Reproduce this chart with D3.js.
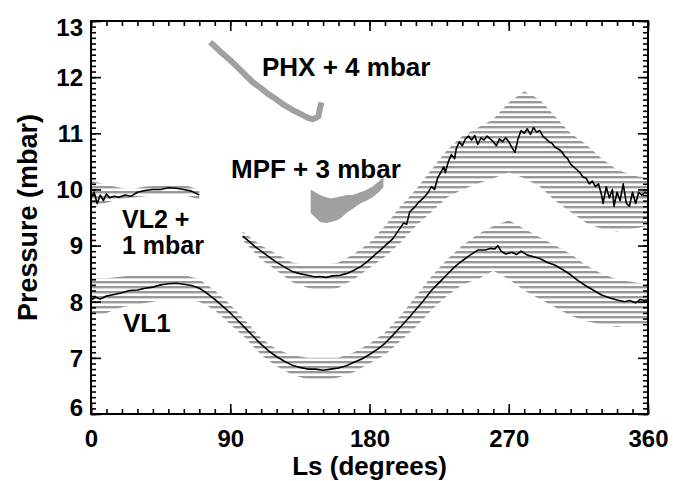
<!DOCTYPE html>
<html>
<head>
<meta charset="utf-8">
<script src="https://cdn.jsdelivr.net/npm/d3@7.9.0/dist/d3.min.js"></script>
<style>
  body { margin: 0; background: #fff; }
  text { font-family: "Liberation Sans", Arial, Helvetica, sans-serif; font-weight: bold; }
</style>
</head>
<body>
<svg id="chart" width="673" height="481"></svg>
<script>
// Axis ticks
const xTicks = [0, 90, 180, 270, 360];
const yTicks = [6, 7, 8, 9, 10, 11, 12, 13];

// VL1 daily mean
const vl1Ls = [0, 3, 6, 10, 15, 20, 25, 30, 35, 40, 45, 50, 55, 60, 65, 70, 75, 80, 85, 90, 95, 100, 105, 110, 115, 120, 125, 130, 135, 140, 145, 150, 155, 160, 165, 170, 175, 180, 185, 190, 195, 200, 205, 210, 215, 220, 225, 230, 235, 240, 245, 250, 255, 258, 261, 263, 265, 268, 272, 275, 278, 282, 286, 290, 295, 300, 305, 310, 315, 320, 325, 330, 335, 340, 345, 348, 352, 355, 358, 360];
const vl1P = [8.03, 8.08, 8.05, 8.1, 8.13, 8.16, 8.2, 8.21, 8.24, 8.26, 8.3, 8.32, 8.33, 8.31, 8.29, 8.24, 8.15, 8.04, 7.92, 7.8, 7.66, 7.52, 7.38, 7.24, 7.12, 7.02, 6.94, 6.87, 6.83, 6.8, 6.8, 6.78, 6.8, 6.82, 6.86, 6.92, 6.98, 7.06, 7.15, 7.26, 7.4, 7.55, 7.7, 7.86, 8.02, 8.2, 8.34, 8.48, 8.62, 8.73, 8.83, 8.92, 8.92, 8.95, 8.94, 9.0, 8.9, 8.85, 8.88, 8.84, 8.9, 8.83, 8.8, 8.77, 8.7, 8.65, 8.57, 8.48, 8.37, 8.28, 8.2, 8.12, 8.07, 8.03, 8.0, 8.02, 7.98, 8.04, 8.02, 8.04];

// VL1 raw spread (upper / lower edge)
const vl1BandLs = [0, 10, 20, 30, 40, 50, 60, 70, 80, 90, 100, 110, 120, 130, 140, 150, 160, 170, 180, 190, 200, 210, 220, 230, 240, 250, 260, 270, 280, 290, 300, 310, 320, 330, 340, 350, 360];
const vl1Upper = [8.42, 8.42, 8.45, 8.48, 8.48, 8.48, 8.48, 8.4, 8.2, 7.95, 7.65, 7.35, 7.15, 7.05, 7.0, 7.0, 7.0, 7.1, 7.25, 7.45, 7.75, 8.1, 8.45, 8.75, 9.0, 9.2, 9.35, 9.45, 9.3, 9.15, 9.0, 8.85, 8.65, 8.5, 8.4, 8.35, 8.3];
const vl1Lower = [7.75, 7.8, 7.9, 7.95, 8.0, 8.05, 8.05, 8.0, 7.85, 7.6, 7.35, 7.05, 6.85, 6.7, 6.62, 6.6, 6.65, 6.75, 6.9, 7.05, 7.3, 7.55, 7.85, 8.1, 8.3, 8.4, 8.55, 8.4, 8.2, 8.05, 7.9, 7.75, 7.65, 7.6, 7.55, 7.6, 7.6];

// VL2 + 1 mbar, first year segment
const vl2aLs = [0, 2, 4, 6, 8, 10, 12, 15, 18, 22, 26, 30, 35, 40, 45, 50, 55, 60, 65, 70];
const vl2aP = [9.85, 9.95, 9.75, 9.9, 9.8, 9.92, 9.85, 9.88, 9.86, 9.9, 9.88, 9.95, 9.98, 10.0, 10.0, 10.03, 10.02, 10.0, 9.97, 9.9];
const vl2aBandLs = [0, 8, 15, 25, 35, 50, 60, 70];
const vl2aUpper = [10.15, 10.1, 10.05, 10.0, 10.05, 10.08, 10.08, 10.0];
const vl2aLower = [9.65, 9.75, 9.8, 9.85, 9.88, 9.9, 9.9, 9.82];

// VL2 + 1 mbar, second segment
const vl2bLs = [98, 102, 106, 110, 115, 120, 125, 130, 135, 140, 145, 148, 152, 156, 161, 165, 170, 174, 178, 182, 187, 191, 195, 199, 202, 204, 206, 209, 212, 215, 218, 220, 222, 224, 226, 228, 229, 231, 233, 235, 236, 238, 240, 242, 244, 246, 248, 250, 252, 254, 256, 258, 260, 262, 264, 266, 268, 270, 272, 274, 276, 278, 280, 282, 284, 286, 288, 290, 292, 294, 296, 298, 300, 302, 304, 306, 308, 310, 312, 314, 316, 318, 320, 322, 324, 326, 328, 330, 331, 333, 335, 337, 338, 340, 342, 344, 346, 348, 350, 352, 354, 356, 358, 360];
const vl2bP = [9.17, 9.08, 8.98, 8.9, 8.8, 8.7, 8.62, 8.54, 8.5, 8.47, 8.44, 8.45, 8.43, 8.46, 8.47, 8.5, 8.56, 8.62, 8.7, 8.8, 8.92, 9.02, 9.12, 9.28, 9.4, 9.38, 9.6, 9.68, 9.78, 9.85, 9.95, 10.05, 10.0, 10.2, 10.3, 10.4, 10.3, 10.5, 10.62, 10.55, 10.72, 10.85, 10.78, 10.9, 10.95, 10.88, 10.96, 10.8, 10.92, 10.88, 10.95, 10.9, 10.85, 10.78, 10.9, 10.85, 10.92, 10.85, 10.75, 10.66, 10.9, 11.05, 11.0, 11.08, 10.98, 11.1, 11.02, 11.05, 10.95, 10.9, 10.85, 10.82, 10.75, 10.72, 10.68, 10.6, 10.55, 10.45, 10.4, 10.35, 10.3, 10.22, 10.2, 10.1, 10.15, 10.05, 10.1, 9.9, 9.75, 10.05, 9.85, 10.0, 9.7, 9.95, 9.8, 10.1, 9.75, 9.7, 9.95, 9.75, 9.95, 9.9, 9.95, 9.92];
const vl2bBandLs = [98, 110, 120, 130, 140, 150, 160, 170, 180, 190, 200, 210, 220, 230, 240, 250, 260, 270, 280, 290, 300, 310, 320, 330, 340, 350, 360];
const vl2bUpper = [9.25, 9.0, 8.85, 8.7, 8.65, 8.65, 8.7, 8.85, 9.05, 9.35, 9.7, 10.0, 10.35, 10.7, 10.95, 11.1, 11.25, 11.55, 11.75, 11.6, 11.3, 11.0, 10.8, 10.55, 10.35, 10.25, 10.2];
const vl2bLower = [9.1, 8.75, 8.55, 8.35, 8.25, 8.2, 8.25, 8.4, 8.6, 8.8, 9.05, 9.35, 9.6, 9.85, 10.0, 10.1, 10.2, 10.3, 10.2, 10.05, 9.8, 9.6, 9.4, 9.3, 9.25, 9.3, 9.35];

// MPF + 3 mbar (filled spread)
const mpfLs = [142, 145, 148, 152, 155, 159, 162, 165, 169, 174, 178, 182, 186, 189];
const mpfUpper = [10.0, 9.95, 9.9, 9.86, 9.84, 9.86, 9.88, 9.9, 9.9, 9.95, 9.99, 10.05, 10.14, 10.22];
const mpfLower = [9.58, 9.5, 9.42, 9.4, 9.42, 9.45, 9.5, 9.58, 9.65, 9.75, 9.8, 9.86, 9.95, 10.04];

// PHX + 4 mbar
const phxLs = [77, 80, 85, 90, 95, 100, 105, 110, 115, 120, 125, 130, 135, 140, 143, 145, 147, 148, 149];
const phxP = [12.62, 12.55, 12.42, 12.3, 12.17, 12.03, 11.9, 11.8, 11.69, 11.6, 11.5, 11.42, 11.35, 11.28, 11.25, 11.27, 11.3, 11.45, 11.55];

const svg = d3.select('#chart');
const margin = { left: 91, top: 21, right: 25, bottom: 67 };
const W = 673 - margin.left - margin.right;
const H = 481 - margin.top - margin.bottom;

const x = d3.scaleLinear().domain([0, 360]).range([0, W]);
const y = d3.scaleLinear().domain([6, 13]).range([H, 0]);

// striped fill for the quantized raw data
const defs = svg.append('defs');
defs.append('pattern')
    .attr('id', 'stripes')
    .attr('patternUnits', 'userSpaceOnUse')
    .attr('width', 8).attr('height', 5)
  .append('rect')
    .attr('width', 8).attr('height', 2.4)
    .attr('fill', '#999');

const g = svg.append('g').attr('transform', `translate(${margin.left},${margin.top})`);

const area = d3.area()
    .x(d => x(d[0]))
    .y0(d => y(d[2]))
    .y1(d => y(d[1]));
const line = d3.line()
    .x(d => x(d[0]))
    .y(d => y(d[1]));

function band(ls, up, lo, fill) {
    g.append('path')
        .attr('d', area(ls.map((v, i) => [v, up[i], lo[i]])))
        .attr('fill', fill);
}
function trace(ls, p, color, width) {
    g.append('path')
        .attr('d', line(ls.map((v, i) => [v, p[i]])))
        .attr('fill', 'none')
        .attr('stroke', color)
        .attr('stroke-width', width)
        .attr('stroke-linejoin', 'round');
}

band(vl1BandLs, vl1Upper, vl1Lower, 'url(#stripes)');
band(vl2aBandLs, vl2aUpper, vl2aLower, 'url(#stripes)');
band(vl2bBandLs, vl2bUpper, vl2bLower, 'url(#stripes)');
band(mpfLs, mpfUpper, mpfLower, '#a0a0a0');
trace(phxLs, phxP, '#a0a0a0', 6);

trace(vl1Ls, vl1P, '#000', 1.6);
trace(vl2aLs, vl2aP, '#000', 1.6);
trace(vl2bLs, vl2bP, '#000', 1.6);

// axes: inward ticks on all four sides
const xMinor = d3.range(0, 361, 10);
const yMinor = d3.range(6, 13.001, 0.1);

function styleAxis(sel) {
    sel.select('.domain').remove();
    sel.selectAll('line').attr('stroke', '#000').attr('stroke-width', 1.6);
}

g.append('g').attr('transform', `translate(0,${H})`)
    .call(d3.axisBottom(x).tickValues(xMinor).tickSize(-5).tickFormat(''))
    .call(styleAxis);
g.append('g')
    .call(d3.axisTop(x).tickValues(xMinor).tickSize(-5).tickFormat(''))
    .call(styleAxis);
g.append('g')
    .call(d3.axisLeft(y).tickValues(yMinor).tickSize(-5).tickFormat(''))
    .call(styleAxis);
g.append('g').attr('transform', `translate(${W},0)`)
    .call(d3.axisRight(y).tickValues(yMinor).tickSize(-5).tickFormat(''))
    .call(styleAxis);

const xAxis = g.append('g').attr('transform', `translate(0,${H})`)
    .call(d3.axisBottom(x).tickValues(xTicks).tickSize(-10).tickPadding(16).tickFormat(d3.format('d')))
    .call(styleAxis);
g.append('g')
    .call(d3.axisTop(x).tickValues(xTicks).tickSize(-10).tickFormat(''))
    .call(styleAxis);
const yAxis = g.append('g')
    .call(d3.axisLeft(y).tickValues(yTicks).tickSize(-10).tickPadding(8).tickFormat(d3.format('d')))
    .call(styleAxis);
g.append('g').attr('transform', `translate(${W},0)`)
    .call(d3.axisRight(y).tickValues(yTicks).tickSize(-10).tickFormat(''))
    .call(styleAxis);

xAxis.selectAll('text')
    .attr('font-size', 24).attr('fill', '#000')
    .attr('font-family', '"Liberation Sans", Arial, sans-serif')
    .attr('font-weight', 'bold');
yAxis.selectAll('text')
    .attr('font-size', 24).attr('fill', '#000')
    .attr('font-family', '"Liberation Sans", Arial, sans-serif')
    .attr('font-weight', 'bold')
    .attr('dy', d => d === 13 ? '0.62em' : d === 6 ? '0.05em' : '0.35em');

// frame
g.append('rect')
    .attr('width', W).attr('height', H)
    .attr('fill', 'none')
    .attr('stroke', '#000')
    .attr('stroke-width', 2);

// axis titles
svg.append('text')
    .attr('x', margin.left + W / 2).attr('y', 475)
    .attr('text-anchor', 'middle')
    .attr('font-size', 26)
    .text('Ls (degrees)');
svg.append('text')
    .attr('transform', `translate(37,${margin.top + H / 2}) rotate(-90)`)
    .attr('text-anchor', 'middle')
    .attr('font-size', 27)
    .text('Pressure (mbar)');

// series labels
const labels = [
    { t: 'PHX + 4 mbar', x: 262, y: 76, s: 26 },
    { t: 'MPF + 3 mbar', x: 231, y: 178, s: 26 },
    { t: 'VL2 +', x: 122, y: 228, s: 25 },
    { t: '1 mbar', x: 122, y: 254, s: 25 },
    { t: 'VL1', x: 123, y: 332, s: 26 }
];
svg.selectAll('text.lbl')
    .data(labels)
    .join('text')
    .attr('class', 'lbl')
    .attr('x', d => d.x).attr('y', d => d.y)
    .attr('font-size', d => d.s)
    .text(d => d.t);
</script>
</body>
</html>
